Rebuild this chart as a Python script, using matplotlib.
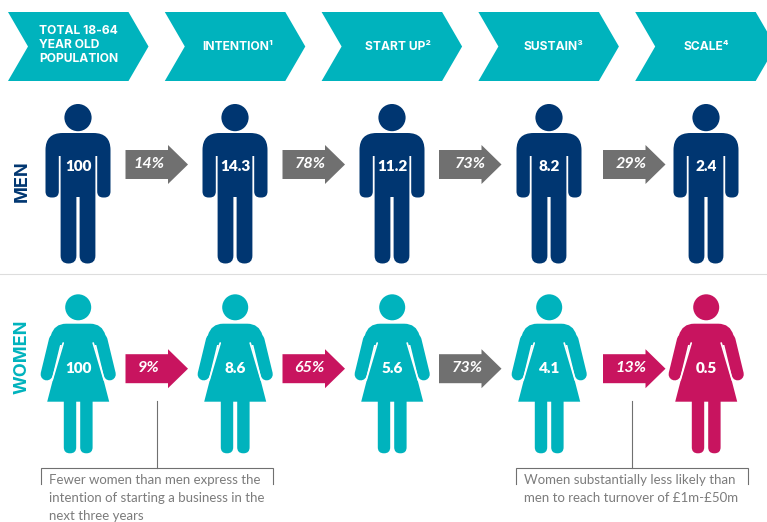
"""Entrepreneurship pipeline infographic: men vs women per 100 of the 18-64 population."""

import matplotlib
matplotlib.use("Agg")
import matplotlib.pyplot as plt
import numpy as np
from matplotlib.patches import Circle, PathPatch, Polygon
from matplotlib.path import Path

stages = ["TOTAL 18-64\nYEAR OLD\nPOPULATION", "INTENTION¹", "START UP²", "SUSTAIN³", "SCALE⁴"]
men_values = ["100", "14.3", "11.2", "8.2", "2.4"]
women_values = ["100", "8.6", "5.6", "4.1", "0.5"]
men_rates = ["14%", "78%", "73%", "29%"]
women_rates = ["9%", "65%", "73%", "13%"]
women_rate_flagged = [True, True, False, True]
women_value_flagged = [False, False, False, False, True]
notes = [
    "Fewer women than men express the\nintention of starting a business in the\nnext three years",
    "Women substantially less likely than\nmen to reach turnover of £1m-£50m",
]

TEAL = "#00B3BD"
NAVY = "#003671"
MAGENTA = "#C8145F"
GREY = "#707070"
NOTE_GREY = "#7C7C7C"
W, H = 767, 522
STEP = 157
CHEVRON_STEP = 156.8
SANS = "Lato"
HEAD_FONT = ["Inter", "DejaVu Sans"]

MEN_CX = 78
WOMEN_CX = 78.2
MEN_ARROW_Y = 164.5
WOMEN_ARROW_Y = 368.7
ARROW_X = [125.5, 282.5, 439, 603]  # the last arrow sits off the regular column step
MEN_RATE_DX = [23, 27.5, 31.7, 28]
WOMEN_RATE_DX = [23.5, 26.5, 28, 28]
STAGE_DX = [31, 72.6, 76, 75, 71]
NOTE_LINE_X = [156.5, 631.5]


def rounded(points):
    """Closed path from (x, y, radius) vertices, corners smoothed with quadratic curves."""
    n = len(points)
    verts, codes = [], []
    for i, (x, y, r) in enumerate(points):
        p = np.array([x, y], float)
        prev = np.array(points[i - 1][:2], float)
        nxt = np.array(points[(i + 1) % n][:2], float)
        if r == 0:
            verts.append(p)
            codes.append(Path.LINETO)
            continue
        a = p + (prev - p) / np.linalg.norm(prev - p) * r
        b = p + (nxt - p) / np.linalg.norm(nxt - p) * r
        verts += [a, p, b]
        codes += [Path.LINETO, Path.CURVE3, Path.CURVE3]
    codes[0] = Path.MOVETO
    verts.append(verts[0])
    codes.append(Path.CLOSEPOLY)
    return Path(verts, codes)


def add_shape(ax, cx, points, color):
    shifted = [(cx + x, y, r) for x, y, r in points]
    ax.add_patch(PathPatch(rounded(shifted), fc=color, ec="none"))


def draw_man(ax, cx, color):
    ax.add_patch(Circle((cx, 117.6), 13.6, fc=color, ec="none"))
    add_shape(ax, cx, [(-32.5, 133, 17), (32.5, 133, 17), (32.5, 197.5, 6), (19.2, 197.5, 6),
                       (19.2, 156, 0), (-19.2, 156, 0), (-19.2, 197.5, 6), (-32.5, 197.5, 6)], color)
    add_shape(ax, cx, [(-17.4, 150, 0), (17.4, 150, 0), (17.4, 263.5, 7.8), (1.6, 263.5, 7.8),
                       (1.6, 197, 0), (-1.6, 197, 0), (-1.6, 263.5, 7.8), (-17.4, 263.5, 7.8)], color)


def draw_woman(ax, cx, color):
    ax.add_patch(Circle((cx, 307.3), 13, fc=color, ec="none"))
    add_shape(ax, cx, [(-24, 323.7, 12), (24, 323.7, 12), (30, 345, 0), (-30, 345, 0)], color)
    add_shape(ax, cx, [(-15, 340, 0), (15, 340, 0), (31, 401.7, 0), (-31, 401.7, 0)], color)
    for side in (-1, 1):
        ax.plot([cx + side * 23.2, cx + side * 31.5], [340, 374.3], color=color, lw=12.2 * 0.72,
                solid_capstyle="round")
        ax.plot([cx + side * 15, cx + side * 26], [343, 380], color="white", lw=1.7 * 0.72,
                solid_capstyle="round")
        inner = sorted([side * 2, side * 14.4])
        add_shape(ax, cx, [(inner[0], 400, 0), (inner[1], 400, 0), (inner[1], 453.3, 6),
                           (inner[0], 453.3, 6)], color)


def draw_arrow(ax, x0, yc, color):
    xs = np.array([0, 42.5, 42.5, 62.5, 42.5, 42.5, 0]) + x0
    ys = np.array([-14.5, -14.5, -19.5, 0, 19.5, 14.5, 14.5]) + yc
    ax.add_patch(Polygon(np.column_stack([xs, ys]), fc=color, ec="none"))


def draw_note(ax, x_line, text):
    x0, x1 = x_line - 116, x_line + 116.5
    ax.plot([x_line, x_line], [400.7, 467.7], color=GREY, lw=0.8)
    ax.plot([x0, x0, x1, x1], [484, 467.7, 467.7, 484], color=GREY, lw=0.8, solid_joinstyle="miter")
    for k, line in enumerate(text.split("\n")):
        ax.text(x0 + 8.3, 480 + 17.8 * k, line, color=NOTE_GREY, fontsize=9.55, family=SANS,
                ha="left", va="center")


fig = plt.figure(figsize=(W / 100, H / 100), dpi=100)
ax = fig.add_axes([0, 0, 1, 1])
ax.set_xlim(0, W)
ax.set_ylim(H, 0)
ax.axis("off")

for i, stage in enumerate(stages):
    x0 = 8 + CHEVRON_STEP * i
    ax.add_patch(Polygon([(x0, 12), (x0 + 120.5, 12), (x0 + 140.5, 46.5), (x0 + 120.5, 81),
                          (x0, 81), (x0 + 20, 46.5)], fc=TEAL, ec="none", clip_on=True))
    if "\n" in stage:
        for k, line in enumerate(stage.split("\n")):
            ax.text(x0 + STAGE_DX[i], 31 + 14 * k, line, color="white", fontsize=8.7, weight="bold",
                    family=HEAD_FONT, ha="left", va="center")
    else:
        ax.text(x0 + STAGE_DX[i], 47, stage, color="white", fontsize=8.7, weight="bold",
                family=HEAD_FONT, ha="center", va="center")

ax.plot([0, W], [274, 274], color="#DDDDDD", lw=0.8)

for i, value in enumerate(men_values):
    cx = MEN_CX + STEP * i
    draw_man(ax, cx, NAVY)
    ax.text(cx, 166.5, value, color="white", fontsize=11, weight="heavy", family=SANS,
            ha="center", va="center")

for i, value in enumerate(women_values):
    cx = WOMEN_CX + STEP * i
    draw_woman(ax, cx, MAGENTA if women_value_flagged[i] else TEAL)
    ax.text(cx, 368.7, value, color="white", fontsize=11, weight="heavy", family=SANS,
            ha="center", va="center")

for i, rate in enumerate(men_rates):
    draw_arrow(ax, ARROW_X[i], MEN_ARROW_Y, GREY)
    ax.text(ARROW_X[i] + MEN_RATE_DX[i], 163.5, rate, color="white", fontsize=11.6, weight="bold",
            style="italic", family=SANS, ha="center", va="center")

for i, rate in enumerate(women_rates):
    draw_arrow(ax, ARROW_X[i], WOMEN_ARROW_Y, MAGENTA if women_rate_flagged[i] else GREY)
    ax.text(ARROW_X[i] + WOMEN_RATE_DX[i], 368.3, rate, color="white", fontsize=11.6, weight="bold",
            style="italic", family=SANS, ha="center", va="center")

ax.text(22, 181, "MEN", color=NAVY, fontsize=13, weight="bold", family="Inter",
        rotation=90, ha="center", va="center")
ax.text(22, 357, "WOMEN", color=TEAL, fontsize=13, weight="bold", family="Inter",
        rotation=90, ha="center", va="center")

for x_line, text in zip(NOTE_LINE_X, notes):
    draw_note(ax, x_line, text)

fig.savefig("out.png", dpi=100)
plt.close(fig)
